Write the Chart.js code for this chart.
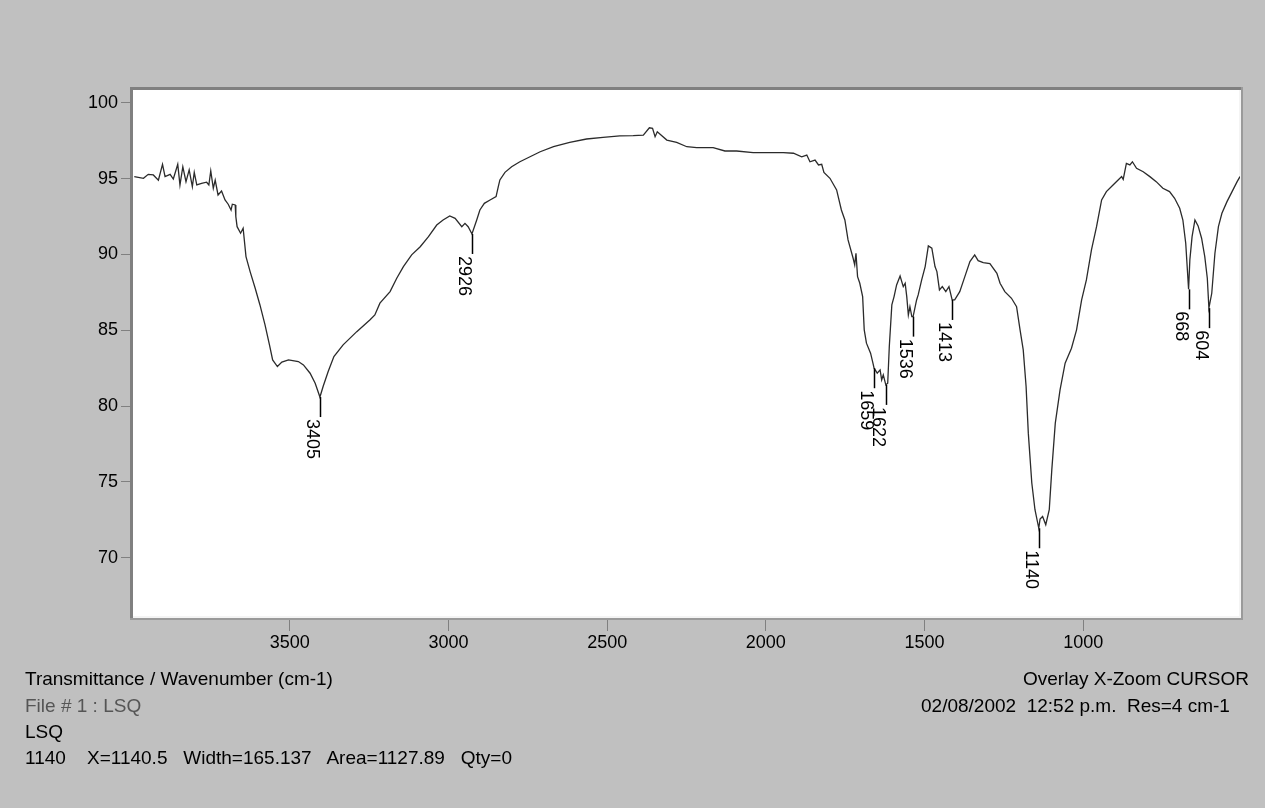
<!DOCTYPE html>
<html lang="en">
<head>
    <meta charset="UTF-8">
    <title>Transmittance / Wavenumber - LSQ</title>
    <script src="https://cdn.jsdelivr.net/npm/chart.js"></script>
    <style>
        body { margin: 0; background: #c0c0c0; }
        #wrap { position: relative; width: 1265px; height: 808px; overflow: hidden; }
        .info { position: absolute; font-family: "Liberation Sans", Arial, sans-serif; font-size: 19px; line-height: 22px; color: #000; white-space: pre; }
        .dim { color: #555; }
    </style>
</head>
<body>
    <div id="wrap">
        <canvas id="irChart" width="1265" height="808"></canvas>
        <div class="info" style="left:25px; top:668px;">Transmittance / Wavenumber (cm-1)</div>
        <div class="info dim" style="left:25px; top:695px;">File # 1 : LSQ</div>
        <div class="info" style="left:25px; top:721px;">LSQ</div>
        <div class="info" style="left:25px; top:747px;">1140    X=1140.5   Width=165.137   Area=1127.89   Qty=0</div>
        <div class="info" style="left:1023px; top:668px;">Overlay X-Zoom CURSOR</div>
        <div class="info" style="left:921px; top:695px;">02/08/2002  12:52 p.m.  Res=4 cm-1</div>
    </div>
    <script>
        // spectrum (cm-1, %T)
        const wavenumbers = [
            3990, 3961, 3946, 3930, 3914, 3901, 3893, 3877, 3867, 3853, 3846, 3837, 3827, 3817, 3807, 3801,
            3793, 3778, 3762, 3755, 3749, 3741, 3735, 3726, 3715, 3704, 3694, 3685, 3681, 3672, 3670, 3666,
            3655, 3647, 3638, 3625, 3609, 3594, 3578, 3564, 3554, 3539, 3525, 3504, 3473, 3457, 3436, 3420,
            3405, 3395, 3379, 3361, 3332, 3289, 3247, 3232, 3216, 3184, 3163, 3142, 3116, 3089, 3063, 3037,
            3017, 2996, 2979, 2958, 2948, 2938, 2926, 2911, 2901, 2887, 2869, 2850, 2843, 2838, 2822, 2801,
            2775, 2743, 2711, 2669, 2618, 2565, 2513, 2460, 2418, 2386, 2367, 2357, 2349, 2342, 2312, 2281,
            2249, 2218, 2166, 2129, 2092, 2040, 1987, 1945, 1913, 1887, 1871, 1861, 1845, 1834, 1824, 1817,
            1798, 1777, 1762, 1751, 1741, 1725, 1720, 1716, 1711, 1704, 1695, 1690, 1683, 1670, 1662, 1659,
            1649, 1640, 1635, 1630, 1622, 1616, 1611, 1603, 1596, 1588, 1577, 1567, 1561, 1556, 1551, 1546,
            1540, 1536, 1525, 1520, 1509, 1498, 1488, 1477, 1467, 1461, 1453, 1444, 1433, 1423, 1413, 1405,
            1389, 1373, 1357, 1342, 1331, 1315, 1294, 1272, 1262, 1247, 1226, 1210, 1199, 1189, 1180, 1173,
            1162, 1152, 1140, 1136, 1128, 1118, 1107, 1099, 1088, 1073, 1057, 1037, 1021, 1005, 990, 974,
            958, 942, 927, 906, 890, 879, 874, 864, 853, 845, 832, 811, 790, 770, 749, 728,
            712, 696, 686, 677, 668, 664, 657, 648, 638, 627, 617, 609, 604, 595, 585, 574,
            563, 547, 531, 515, 506
        ];
        const transmittance = [
            95.13, 95.02, 95.28, 95.24, 94.90, 95.94, 95.13, 95.28, 94.97, 95.94, 94.58, 95.78, 94.80, 95.57, 94.47, 95.41,
            94.58, 94.69, 94.76, 94.58, 95.50, 94.36, 94.90, 93.92, 94.18, 93.59, 93.31, 92.93, 93.31, 93.26, 92.49, 91.83,
            91.40, 91.73, 89.86, 88.87, 87.77, 86.67, 85.36, 84.04, 83.05, 82.61, 82.90, 83.05, 82.94, 82.72, 82.17, 81.51,
            80.60, 81.29, 82.28, 83.27, 84.04, 84.91, 85.69, 86.01, 86.79, 87.55, 88.43, 89.20, 89.97, 90.51, 91.17, 91.94,
            92.27, 92.54, 92.38, 91.83, 92.05, 91.83, 91.35, 92.27, 92.93, 93.37, 93.59, 93.81, 94.47, 94.91, 95.41, 95.78,
            96.11, 96.44, 96.77, 97.10, 97.39, 97.61, 97.72, 97.81, 97.83, 97.87, 98.35, 98.31, 97.76, 98.09, 97.54, 97.39,
            97.10, 97.04, 97.04, 96.82, 96.82, 96.71, 96.71, 96.71, 96.67, 96.44, 96.55, 96.11, 96.22, 95.90, 95.94, 95.41,
            95.02, 94.25, 92.93, 92.27, 90.96, 89.75, 89.31, 90.08, 88.54, 88.10, 87.22, 85.03, 84.15, 83.49, 82.79, 82.50,
            82.17, 82.39, 81.73, 82.06, 81.40, 81.51, 83.93, 86.67, 87.22, 87.99, 88.58, 87.88, 88.10, 87.22, 86.01, 86.56,
            85.90, 85.90, 87.00, 87.33, 88.32, 89.20, 90.56, 90.41, 89.20, 88.87, 87.66, 87.88, 87.55, 87.88, 87.00, 87.00,
            87.55, 88.54, 89.53, 89.97, 89.59, 89.46, 89.40, 88.76, 88.10, 87.55, 87.11, 86.56, 85.03, 83.71, 81.29, 78.22,
            74.93, 73.17, 71.95, 72.56, 72.73, 72.18, 73.17, 75.80, 78.88, 81.07, 82.83, 83.82, 85.03, 87.00, 88.32, 90.30,
            91.83, 93.59, 94.14, 94.58, 94.91, 95.13, 94.95, 96.00, 95.90, 96.11, 95.68, 95.45, 95.13, 94.80, 94.36, 94.14,
            93.70, 93.04, 92.27, 90.74, 87.70, 89.64, 91.17, 92.27, 91.88, 91.07, 89.86, 88.43, 86.46, 87.44, 90.08, 91.83,
            92.71, 93.48, 94.14, 94.80, 95.13
        ];

        const xTickValues = [3500, 3000, 2500, 2000, 1500, 1000];
        const yTickValues = [70, 75, 80, 85, 90, 95, 100];

        // picked peaks
        const peakLabels = ['3405', '2926', '1659', '1622', '1536', '1413', '1140', '668', '604'];
        const peakPositions = [3405, 2926, 1659, 1622, 1536, 1413, 1140, 668, 604];
        const peakValues = [80.60, 91.35, 82.50, 81.40, 85.90, 87.00, 71.95, 87.70, 86.46];

        const fontFamily = '"Liberation Sans", Arial, sans-serif';

        const plotFrame = {
            id: 'plotFrame',
            beforeDatasetsDraw(chart) {
                const { ctx, chartArea: a } = chart;
                ctx.save();
                ctx.fillStyle = '#ffffff';
                ctx.fillRect(a.left, a.top, a.right - a.left, a.bottom - a.top);
                ctx.fillStyle = '#808080';
                ctx.fillRect(a.left - 3, a.top - 3, a.right - a.left + 6, 3);
                ctx.fillRect(a.left - 3, a.top - 3, 3, a.bottom - a.top + 6);
                ctx.fillStyle = '#9a9a9a';
                ctx.fillRect(a.right + 1, a.top - 3, 2, a.bottom - a.top + 6);
                ctx.fillRect(a.left - 3, a.bottom + 1, a.right - a.left + 6, 2);
                ctx.fillStyle = '#f4f4f4';
                ctx.fillRect(a.right - 1, a.top, 2, a.bottom - a.top + 1);
                ctx.fillRect(a.left, a.bottom - 1, a.right - a.left + 1, 2);
                ctx.restore();
            }
        };

        const peakMarks = {
            id: 'peakMarks',
            afterDatasetsDraw(chart) {
                const { ctx, scales } = chart;
                ctx.save();
                ctx.strokeStyle = '#000';
                ctx.lineWidth = 1.5;
                ctx.fillStyle = '#000';
                ctx.font = '18px ' + fontFamily;
                ctx.textAlign = 'left';
                ctx.textBaseline = 'top';
                peakPositions.forEach((pos, i) => {
                    const px = Math.round(scales.x.getPixelForValue(pos)) + 0.5;
                    const py = scales.y.getPixelForValue(peakValues[i]);
                    ctx.beginPath();
                    ctx.moveTo(px, py);
                    ctx.lineTo(px, py + 20);
                    ctx.stroke();
                    ctx.save();
                    ctx.translate(px, py + 22);
                    ctx.rotate(Math.PI / 2);
                    ctx.fillText(peakLabels[i], 0, 0);
                    ctx.restore();
                });
                ctx.restore();
            }
        };

        const ctx = document.getElementById('irChart').getContext('2d');
        new Chart(ctx, {
            type: 'line',
            data: {
                datasets: [{
                    data: wavenumbers.map((w, i) => ({ x: w, y: transmittance[i] })),
                    borderColor: '#2b2b2b',
                    borderWidth: 1.3,
                    pointRadius: 0,
                    tension: 0,
                    fill: false
                }]
            },
            options: {
                responsive: false,
                animation: false,
                devicePixelRatio: 1,
                layout: { padding: { left: 0, top: 90, right: 25, bottom: 131 } },
                plugins: { legend: { display: false }, tooltip: { enabled: false } },
                scales: {
                    x: {
                        type: 'linear',
                        reverse: true,
                        min: 506,
                        max: 3994,
                        afterBuildTicks: s => { s.ticks = xTickValues.map(v => ({ value: v })); },
                        afterFit: s => { s.height = 60; },
                        border: { display: false },
                        grid: { drawOnChartArea: false, drawTicks: true, tickLength: 14, color: '#808080' },
                        ticks: {
                            autoSkip: false,
                            maxRotation: 0,
                            padding: 1,
                            color: '#000',
                            font: { family: fontFamily, size: 18 },
                            callback: v => String(v)
                        }
                    },
                    y: {
                        min: 66.1,
                        max: 100.84,
                        afterBuildTicks: s => { s.ticks = yTickValues.map(v => ({ value: v })); },
                        afterFit: s => { s.width = 133; },
                        border: { display: false },
                        grid: { drawOnChartArea: false, drawTicks: true, tickLength: 12, color: '#808080' },
                        ticks: {
                            padding: 3,
                            color: '#000',
                            font: { family: fontFamily, size: 18 },
                            callback: v => String(v)
                        }
                    }
                }
            },
            plugins: [plotFrame, peakMarks]
        });
    </script>
</body>
</html>
